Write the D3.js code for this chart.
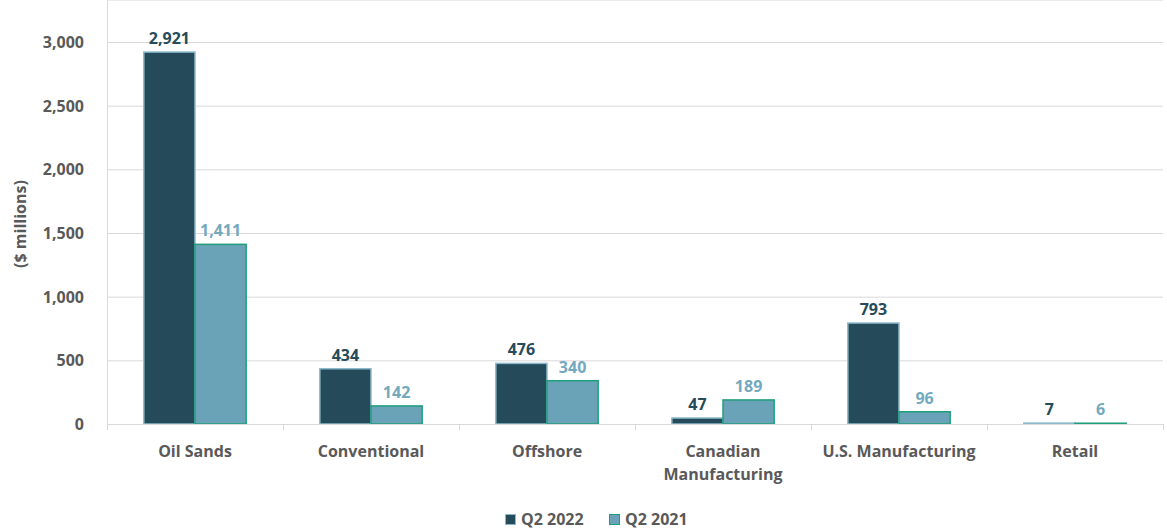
<!DOCTYPE html>
<meta charset="utf-8">
<head>
    <style>
        body { margin: 0; background: #fff; }
        text { font-family: "Open Sans", sans-serif; font-weight: bold; }
        .grid line { stroke: #d9d9d9; }
        .axis text { fill: #595959; font-size: 16px; }
    </style>
</head>
<body>
<svg width="1167" height="531"></svg>
<script src="https://d3js.org/d3.v7.min.js"></script>
<script>
    var categories = [["Oil Sands"], ["Conventional"], ["Offshore"], ["Canadian", "Manufacturing"], ["U.S. Manufacturing"], ["Retail"]];
    var q2022 = [2921, 434, 476, 47, 793, 7];
    var q2021 = [1411, 142, 340, 189, 96, 6];
    var series = ["Q2 2022", "Q2 2021"];
    var yTicks = [0, 500, 1000, 1500, 2000, 2500, 3000];

    var svg = d3.select("svg"),
        left = 107, right = 1163, top = 16, bottom = 424;

    var fills = ["#254b5a", "#6aa3b8"],
        strokes = ["#8cbacc", "#1f9e7c"],
        labelColors = ["#264b5a", "#73a9bd"];

    var x = d3.scaleBand()
        .domain(d3.range(categories.length))
        .range([left, right]);

    var x1 = d3.scaleBand()
        .domain(d3.range(series.length))
        .range([0, x.bandwidth()])
        .paddingOuter(0.72)
        .paddingInner(0);

    var y = d3.scaleLinear()
        .domain([0, 3200])
        .range([bottom, bottom - 3200 * (424 - 42) / 3000]);

    // grid
    svg.append("g").attr("class", "grid")
        .selectAll("line")
        .data(yTicks.slice(1))
        .enter().append("line")
        .attr("x1", left).attr("x2", right)
        .attr("y1", function (d) { return y(d) + 0.5; })
        .attr("y2", function (d) { return y(d) + 0.5; });

    svg.append("line")
        .attr("x1", left + 0.5).attr("x2", left + 0.5)
        .attr("y1", top).attr("y2", bottom)
        .attr("stroke", "#d9d9d9");

    svg.append("line")
        .attr("x1", left).attr("x2", right)
        .attr("y1", top + 0.5).attr("y2", top + 0.5)
        .attr("stroke", "#d9d9d9");

    var data = [q2022, q2021];

    var groups = svg.append("g")
        .selectAll("g")
        .data(categories)
        .enter().append("g")
        .attr("transform", function (d, i) { return "translate(" + x(i) + ",0)"; });

    groups.selectAll("rect")
        .data(function (d, i) { return data.map(function (s, k) { return { k: k, v: s[i] }; }); })
        .enter().append("rect")
        .attr("x", function (d) { return x1(d.k); })
        .attr("width", x1.bandwidth())
        .attr("y", function (d) { return y(d.v); })
        .attr("height", function (d) { return Math.max(1, y(0) - y(d.v)); })
        .attr("fill", function (d) { return fills[d.k]; })
        .attr("stroke", function (d) { return strokes[d.k]; })
        .attr("stroke-width", 1.5);

    groups.selectAll("text.val")
        .data(function (d, i) { return data.map(function (s, k) { return { k: k, v: s[i] }; }); })
        .enter().append("text")
        .attr("class", "val")
        .attr("x", function (d) { return x1(d.k) + x1.bandwidth() / 2; })
        .attr("y", function (d) { return y(d.v) - 8; })
        .attr("text-anchor", "middle")
        .attr("font-size", 16)
        .attr("fill", function (d) { return labelColors[d.k]; })
        .text(function (d) { return d3.format(",")(d.v); });

    // baseline and ticks
    svg.append("line")
        .attr("x1", left).attr("x2", right)
        .attr("y1", bottom + 0.5).attr("y2", bottom + 0.5)
        .attr("stroke", "#d9d9d9");

    svg.append("g").selectAll("line")
        .data(d3.range(categories.length + 1))
        .enter().append("line")
        .attr("x1", function (i) { return Math.round(left + i * x.bandwidth()) + 0.5; })
        .attr("x2", function (i) { return Math.round(left + i * x.bandwidth()) + 0.5; })
        .attr("y1", bottom).attr("y2", bottom + 6)
        .attr("stroke", "#d9d9d9");

    // y axis labels
    var yAxis = svg.append("g").attr("class", "axis");
    yAxis.selectAll("text")
        .data(yTicks)
        .enter().append("text")
        .attr("x", 84)
        .attr("y", function (d) { return y(d) + 6; })
        .attr("text-anchor", "end")
        .text(function (d) { return d3.format(",")(d); });

    yAxis.append("text")
        .attr("transform", "translate(26," + 224 + ") rotate(-90)")
        .attr("text-anchor", "middle")
        .text("($ millions)");

    // x labels
    var xAxis = svg.append("g").attr("class", "axis");
    xAxis.selectAll("text")
        .data(categories)
        .enter().append("text")
        .attr("text-anchor", "middle")
        .attr("x", function (d, i) { return x(i) + x.bandwidth() / 2; })
        .attr("y", 457)
        .each(function (d) {
            var t = d3.select(this);
            d.forEach(function (line, j) {
                t.append("tspan")
                    .attr("x", t.attr("x"))
                    .attr("dy", j === 0 ? 0 : 23)
                    .text(line);
            });
        });

    // legend
    var legend = svg.append("g").attr("class", "axis")
        .attr("transform", "translate(505,525)");
    var offsets = [0, 104];
    series.forEach(function (s, k) {
        var g = legend.append("g").attr("transform", "translate(" + offsets[k] + ",0)");
        g.append("rect")
            .attr("x", 0.5).attr("y", -10.5)
            .attr("width", 10).attr("height", 10)
            .attr("fill", fills[k])
            .attr("stroke", strokes[k]);
        g.append("text")
            .attr("x", 16).attr("y", 0)
            .text(s);
    });
</script>
</body>
